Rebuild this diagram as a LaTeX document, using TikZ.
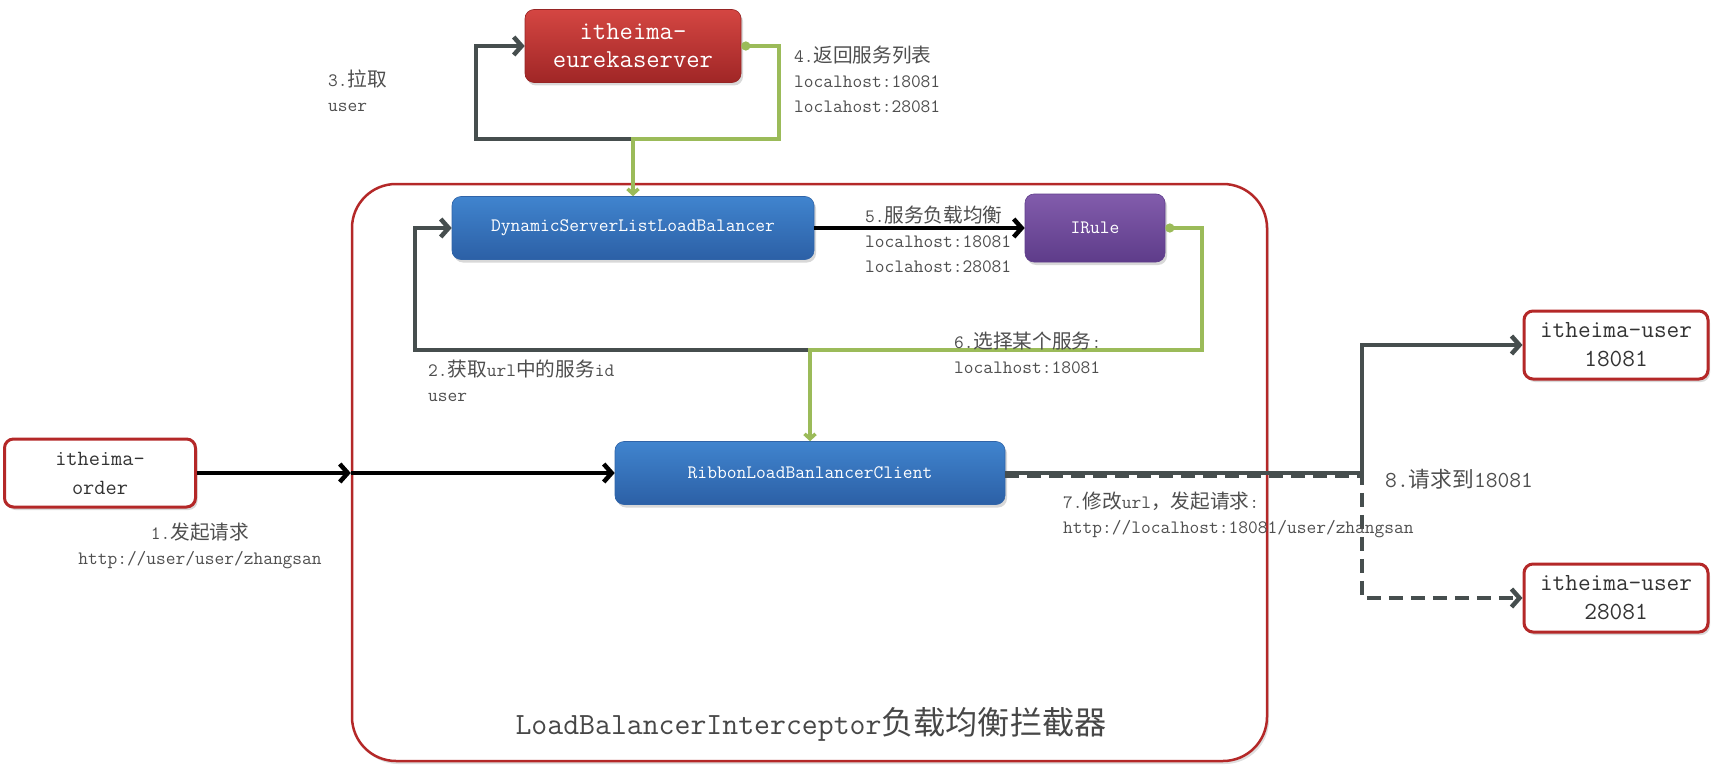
\documentclass[tikz,border=0pt]{standalone}
\usepackage{fontspec}
\newfontfamily\cjk{Noto Sans CJK SC}[Scale=1.04]
\usetikzlibrary{arrows.meta,shadows}
\definecolor{bxred}{RGB}{180,40,40}
\definecolor{dkgray}{RGB}{70,78,78}
\definecolor{lgreen}{RGB}{155,187,89}
\definecolor{txtgray}{RGB}{78,78,78}

\begin{document}
\begin{tikzpicture}[x=1pt,y=-1pt,
  sb/.style={rounded corners=9pt,text=white,align=center,inner sep=2pt,line width=0.6pt,
    drop shadow={opacity=0.3,shadow xshift=2pt,shadow yshift=-3pt}},
  rb/.style={sb,top color={rgb,255:red,212;green,70;blue,66},bottom color={rgb,255:red,160;green,38;blue,38},
    draw={rgb,255:red,150;green,36;blue,36},font=\ttfamily\fontsize{25.9}{28}\selectfont},
  bb/.style={sb,top color={rgb,255:red,64;green,132;blue,206},bottom color={rgb,255:red,44;green,96;blue,166},
    draw={rgb,255:red,48;green,100;blue,168},font=\ttfamily\fontsize{19}{22}\selectfont},
  pb/.style={sb,top color={rgb,255:red,130;green,92;blue,172},bottom color={rgb,255:red,94;green,60;blue,138},
    draw={rgb,255:red,96;green,62;blue,140},font=\ttfamily\fontsize{19}{22}\selectfont},
  wb/.style={rounded corners=9pt,draw=bxred,line width=3pt,fill=white,text=black!80,align=center,
    font=\ttfamily\fontsize{24.6}{29}\selectfont,drop shadow={opacity=0.3,shadow xshift=2pt,shadow yshift=-3pt}},
  lab/.style={text=txtgray,align=left,inner sep=0pt,font=\ttfamily\fontsize{18.9}{25}\selectfont},
  dk/.style={draw=dkgray,line width=4.5pt,-{Straight Barb[length=8pt,width=18pt]}},
  bk/.style={dk,draw=black},
  gr/.style={draw=lgreen,line width=3.5pt,{Circle[length=9pt]}-{Straight Barb[length=5pt,width=11pt]}}]
  \useasboundingbox (0,0) rectangle (1713,773);
  % interceptor frame
  \node[draw=bxred,line width=2.5pt,fill=white,rounded corners=44pt,minimum width=915pt,minimum height=577pt,
    drop shadow={opacity=0.25,shadow xshift=2pt,shadow yshift=-3pt}] (lbi) at (809.5,472.5) {};
  \node[text=black!72,font=\ttfamily\fontsize{30.9}{36}\selectfont] (title) at (811,724) {LoadBalancerInterceptor{\cjk 负载均衡拦截器}};
  % boxes
  \node[rb,minimum width=216pt,minimum height=73pt] (eureka) at (633,46) {itheima-\\eurekaserver};
  \node[bb,minimum width=362pt,minimum height=63pt] (dyn) at (633,228) {DynamicServerListLoadBalancer};
  \node[pb,minimum width=140pt,minimum height=68pt] (irule) at (1095,228) {IRule};
  \node[bb,minimum width=390pt,minimum height=63pt] (ribbon) at (810,473) {RibbonLoadBanlancerClient};
  \node[wb,minimum width=191pt,minimum height=68pt,font=\ttfamily\fontsize{21.7}{29}\selectfont] (order) at (100,473) {itheima-\\order};
  \foreach \n/\yy/\p in {user1/345/18081,user2/598/28081}
    \node[wb,minimum width=184pt,minimum height=68pt] (\n) at (1616,\yy) {itheima-user\\\p};
  % corners
  \coordinate (j3) at (633,139); \coordinate (c3) at (476,139); \coordinate (g4) at (779,139);
  \coordinate (j2) at (810,350); \coordinate (c2) at (415,350); \coordinate (g6) at (1202,350);
  \coordinate (br) at (1362,473);
  % connectors
  \draw[dk] (j3) -- (c3) |- (eureka.west);
  \draw[gr] (eureka.east) -| (g4) -| (dyn.north);
  \draw[dk] (j2) -- (c2) |- (dyn.west);
  \draw[bk] (dyn.east) -- (irule.west);
  \draw[gr] (irule.east) -| (g6) -| (ribbon.north);
  \draw[bk] (order.east) -- (order.east -| lbi.west);
  \draw[bk] (order.east -| lbi.west) -- (ribbon.west);
  \draw[dk] (ribbon.east) -- (br) |- (user1.west);
  \draw[dk,dash pattern=on 14pt off 8pt] ([yshift=-2.5pt]ribbon.east) -- ([yshift=-2.5pt]br) |- (user2.west);
  % labels
  \node[lab,anchor=north west] (l3) at (328,70) {3.{\cjk 拉取}\\user};
  \node[lab,anchor=north west] (l4) at (794,46) {4.{\cjk 返回服务列表}\\localhost:18081\\loclahost:28081};
  \node[lab,anchor=north west] (l5) at (865,206) {5.{\cjk 服务负载均衡}\\localhost:18081\\loclahost:28081};
  \node[lab,anchor=north west] (l2) at (428,360) {2.{\cjk 获取}url{\cjk 中的服务}id\\user};
  \node[lab,anchor=north west] (l6) at (954,332) {6.{\cjk 选择某个服务}:\\localhost:18081};
  \node[lab,anchor=north,align=center] (l1) at (200,523) {1.{\cjk 发起请求}\\http://user/user/zhangsan};
  \node[lab,anchor=north west] (l7) at (1063,492) {7.{\cjk 修改}url{\cjk ，发起请求}:\\http://localhost:18081/user/zhangsan};
  \node[lab,anchor=west,font=\ttfamily\fontsize{22.9}{28}\selectfont] (l8) at (1385,479) {8.{\cjk\fontsize{20.9}{28}\selectfont 请求到}18081};
\end{tikzpicture}
\end{document}
